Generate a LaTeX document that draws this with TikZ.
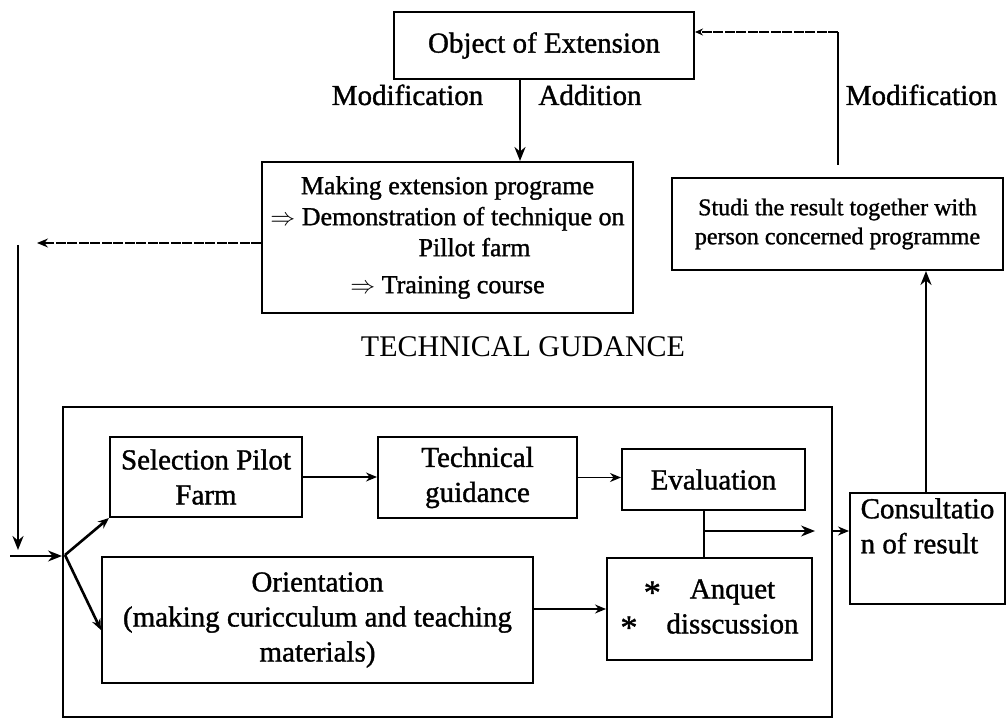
\documentclass[tikz,border=0pt]{standalone}
\usepackage{fontspec}
\setmainfont{Liberation Serif}
\newfontfamily\heavyserif{Liberation Serif}[FakeBold=1.2]
\usetikzlibrary{arrows.meta}
\begin{document}
\begin{tikzpicture}[x=1pt,y=-1pt,
  box/.style={draw,line width=2pt,inner sep=0pt,align=center},
  bigtxt/.style={font=\heavyserif\fontsize{29}{35}\selectfont},
  midtxt/.style={font=\heavyserif\fontsize{26}{31}\selectfont},
  smalltxt/.style={font=\heavyserif\fontsize{24}{29}\selectfont},
  heavy/.style={line width=2.6pt},
  light/.style={line width=1.3pt},
  broken/.style={line width=1.3pt,dash pattern=on 10pt off 1.5pt},
  bigtip/.style={-{Stealth[length=14pt,width=11pt]}},
  smalltip/.style={-{Stealth[length=11pt,width=9pt]}}
]
\useasboundingbox (0,0) rectangle (1006,719);
\newcommand{\bulletstar}{\raisebox{-0.4ex}{\fontsize{34}{34}\selectfont *}}

% upper part: object, programme, study of results
\node[box,bigtxt,minimum width=300pt,minimum height=67pt] (obj) at (544,45.5) {Object of Extension};
\node[box,midtxt,minimum width=371pt,minimum height=151pt] (making) at (447.5,237.5)
  {Making extension programe\\
   $\Rightarrow$ Demonstration of technique on\\
   \hspace*{54pt}Pillot farm\\[6pt]
   $\Rightarrow$ Training course};
\node[box,smalltxt,minimum width=331pt,minimum height=92pt] (studi) at (837.5,224)
  {Studi the result together with\\person concerned programme};

\node[bigtxt,anchor=base] (lmod) at (407.5,105) {Modification};
\node[bigtxt,anchor=base] (ladd) at (590,105) {Addition};
\node[bigtxt,anchor=base] (rmod) at (921.5,105) {Modification};
\node[font=\fontsize{30}{36}\selectfont] (tg) at (523,347) {TECHNICAL GUDANCE};

% lower part: technical guidance block
\node[box,minimum width=769pt,minimum height=310pt] (outer) at (447.5,562) {};
\node[box,bigtxt,minimum width=192pt,minimum height=80pt] (sel) at (206,477) {Selection Pilot\\Farm};
\node[box,bigtxt,minimum width=199pt,minimum height=81pt] (tech) at (477.5,477.5) {Technical\\guidance};
\node[box,bigtxt,minimum width=183pt,minimum height=61pt] (eval) at (713.5,479.5) {Evaluation};
\node[box,bigtxt,minimum width=431pt,minimum height=126pt] (orient) at (317.5,620)
  {Orientation\\(making curicculum and teaching\\materials)};
\node[box,bigtxt,minimum width=205pt,minimum height=102pt] (anq) at (709.5,609)
  {\bulletstar\quad Anquet\\\bulletstar\quad disscussion};
\node[box,bigtxt,minimum width=155pt,minimum height=111pt,align=left,inner xsep=4pt] (cons) at (927.5,548.5)
  {Consultatio\\n of result\\\strut};

% helper coordinates
\coordinate (downx) at (520,0);
\coordinate (fbtop) at (838,32);
\coordinate (fbbot) at (838,165);
\coordinate (leftend) at (37,243);
\coordinate (loopTop) at (18,245);
\coordinate (loopBot) at (18,550);
\coordinate (inStart) at (10,556);
\coordinate (br) at (65,555);
\coordinate (jx) at (704,531);
\coordinate (jend) at (815,531);
\coordinate (upx) at (926,0);

% connectors
\draw[heavy,bigtip] (obj.south -| downx) -- (making.north -| downx);
\draw[heavy] (fbbot) -- (fbtop);
\draw[broken,-{Stealth[length=8pt,width=7pt]}] (fbtop) -- (obj.east |- fbtop);
\draw[broken,smalltip] ([yshift=-5.5pt]making.west) -- (leftend);
\draw[heavy,bigtip] (loopTop) -- (loopBot);
\draw[light,bigtip] (inStart) -- (inStart -| outer.west);
\draw[heavy,smalltip] (br) -- (sel.south west);
\draw[heavy,smalltip] (br) -- ([yshift=-10pt]orient.west);
\draw[light,smalltip] (sel.east) -- (sel.east -| tech.west);
\draw[light,smalltip] (tech.east) -- (tech.east -| eval.west);
\draw[light,smalltip] (orient.east |- anq.west) -- (anq.west);
\draw[heavy] (eval.south -| jx) -- (anq.north -| jx);
\draw[light,bigtip] (jx) -- (jend);
\draw[light,smalltip] (jx -| outer.east) -- (jx -| cons.west);
\draw[heavy,bigtip] (cons.north -| upx) -- (studi.south -| upx);
\end{tikzpicture}
\end{document}
